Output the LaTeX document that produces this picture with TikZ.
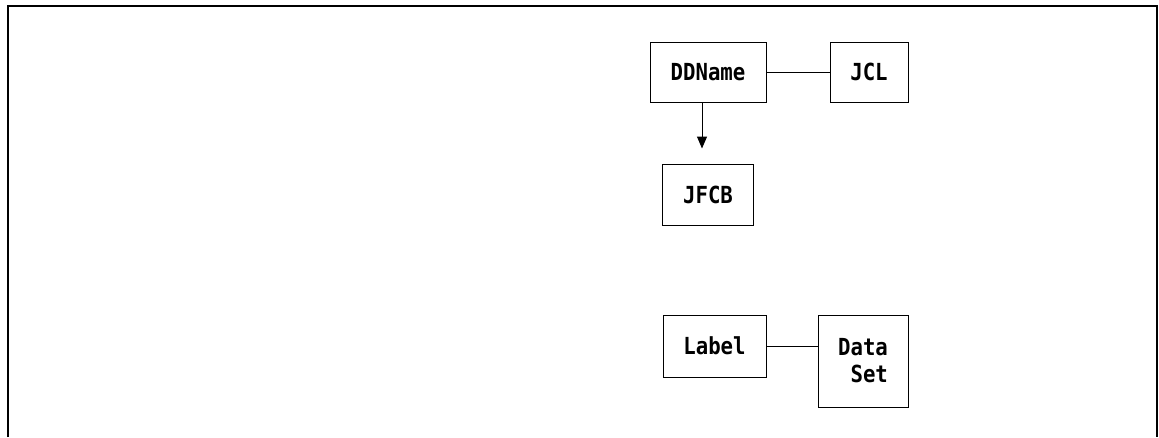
\documentclass[tikz,border=0pt]{standalone}
\usepackage{fontspec}
\setmonofont[FakeStretch=0.88]{DejaVu Sans Mono}
\usepackage{tikz}
\usetikzlibrary{positioning,arrows.meta}
\tikzset{
  fig/box/.style={draw=black, line width=1pt, fill=white, inner sep=2pt,
                  minimum height=60pt, font=\fontsize{23.5}{27}\selectfont\ttfamily\bfseries,
                  align=center},
  fig/line/.style={line width=1pt, black},
  fig/arr/.style={-{Triangle[length=12pt, width=10pt]}, line width=1pt, black},
  fig/frame/.style={line width=1.6pt, black}
}
\begin{document}
\begin{tikzpicture}[x=1pt, y=1pt]
    \useasboundingbox (0,0) rectangle (1159,-437);
    % --- page frame (open at the bottom) ---
    \draw[fig/frame] (8,-437) -- (8,-6) -- (1157,-6) -- (1157,-437);

    % --- upper group ---
    \node[fig/box, minimum width=116pt] (ddname) at (708,-72) {DDName};
    \node[fig/box, minimum width=78pt, right=63pt of ddname] (jcl) {JCL};
    \node[fig/box, minimum width=91pt, minimum height=61pt,
          below=61pt of ddname] (jfcb) {JFCB};

    \draw[fig/line] (ddname) -- (jcl);
    \draw[fig/arr, shorten >=15pt] ([xshift=-6pt]ddname.south) -- ([xshift=-6pt]jfcb.north);

    % --- lower group ---
    \node[fig/box, minimum width=103pt, minimum height=62pt] (label) at (714.5,-346) {Label};
    \node[fig/box, minimum width=90pt, minimum height=92pt, align=right,
          right=51pt of label.north east, anchor=north west] (dataset) {Data\\Set};

    \draw[fig/line] (label.east) -- (label.east -| dataset.west);
\end{tikzpicture}
\end{document}
